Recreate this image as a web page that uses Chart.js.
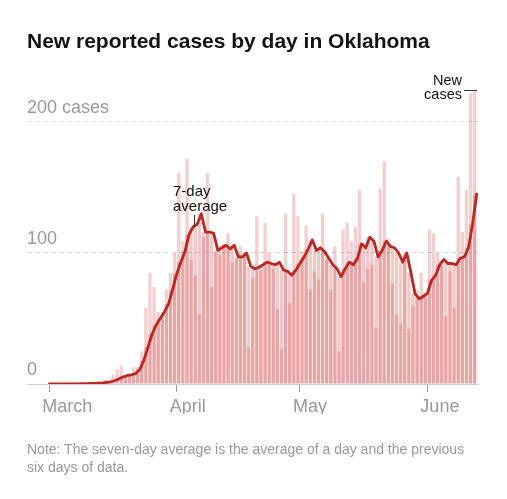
<!DOCTYPE html>
<html>
<head>
<meta charset="utf-8">
<script src="https://cdn.jsdelivr.net/npm/chart.js@4"></script>
<style>
  body { margin: 0; background: #fff; font-family: 'Liberation Sans', Arial, sans-serif; }
  #wrap { position: relative; width: 507px; height: 499px; overflow: hidden; }
  #chart { position: absolute; left: 0; top: 0; }
  .title {
    position: absolute; left: 27px; top: 30px;
    font-size: 21px; line-height: 21px; font-weight: bold;
    color: #121212; white-space: nowrap;
  }
  .note {
    position: absolute; left: 27px; top: 441px; width: 450px;
    font-size: 14px; line-height: 17.6px; color: #999;
  }
</style>
</head>
<body>
<div id="wrap">
  <canvas id="chart" width="507" height="499"></canvas>
  <div class="title">New reported cases by day in Oklahoma</div>
  <div class="note">Note: The seven-day average is the average of a day and the previous six days of data.</div>
</div>

<script>
// one value per day, March 1 (day 0) to June 13 (day 104)
const newCases = [
  0, 0, 0, 0, 0, 0, 1, 0, 1, 0,
  1, 0, 2, 1, 3, 2, 7, 11, 14, 5,
  7, 13, 13, 25, 58, 85, 74, 55, 51, 72,
  85, 100, 161, 109, 172, 95, 83, 53, 112, 161,
  74, 100, 98, 107, 115, 93, 96, 105, 100, 28,
  81, 128, 87, 123, 100, 88, 57, 27, 130, 62,
  145, 128, 101, 121, 72, 86, 80, 130, 95, 72,
  105, 25, 118, 123, 109, 120, 148, 78, 88, 91,
  43, 149, 170, 111, 77, 53, 46, 98, 42, 60,
  72, 85, 70, 118, 115, 100, 90, 52, 86, 58,
  158, 116, 148, 222, 224
];

// 7-day average
const avg7 = [
  0, 0, 0, 0, 0, 0, 0.1, 0.1, 0.3, 0.3,
  0.4, 0.4, 0.7, 0.9, 1.3, 1.7, 2.7, 4, 5.5, 6.5,
  7, 8, 11, 18, 28, 38, 45, 50, 55, 61,
  72, 84, 93, 101, 114, 120, 122, 130, 116, 116,
  115, 102, 104, 106, 103, 106, 97, 97, 100, 90,
  88, 89, 91, 93, 92, 91, 93, 87, 86, 83,
  87, 92, 97, 103, 110, 102, 104, 101, 96, 91,
  88, 82, 88, 93, 91, 96, 107, 104, 112, 109,
  97, 102, 109, 105, 104, 100, 93, 100, 85, 69,
  65, 67, 69, 79, 83, 91, 95, 92, 92, 91,
  96, 97, 104, 122, 145
];

const monthTicks = [0, 31, 61, 92];
const monthLabels = ['March', 'April', 'May', 'June'];
const yTicks = [0, 100, 200];

const days = newCases.map((_, i) => i);
const pts = arr => arr.map((v, i) => ({ x: days[i], y: v }));

const FONT = "'Liberation Sans', Arial, sans-serif";
const barRGB = '200, 40, 40';

// labels for the line and the bars
const annotations = {
  id: 'annotations',
  afterDatasetsDraw(chart) {
    const ctx = chart.ctx;
    ctx.save();
    ctx.fillStyle = '#121212';
    ctx.font = '15px ' + FONT;
    ctx.textAlign = 'left';
    ctx.fillText('7-day', 173, 196);
    ctx.fillText('average', 173, 210.5);
    ctx.font = '14.5px ' + FONT;
    ctx.textAlign = 'right';
    ctx.fillText('New', 462, 84.5);
    ctx.fillText('cases', 462, 98.5);
    ctx.strokeStyle = '#333';
    ctx.lineWidth = 1;
    ctx.beginPath();
    ctx.moveTo(194.5, 215);
    ctx.lineTo(194.5, 227);
    ctx.moveTo(464, 90.5);
    ctx.lineTo(477, 90.5);
    ctx.stroke();
    ctx.restore();
  }
};

new Chart(document.getElementById('chart'), {
  data: {
    datasets: [
      {
        type: 'line',
        label: '7-day average',
        data: pts(avg7),
        xAxisID: 'x',
        borderColor: '#bb2723',
        borderWidth: 2.8,
        pointRadius: 0,
        tension: 0,
        borderJoinStyle: 'round',
        borderCapStyle: 'round',
        order: 0
      },
      {
        type: 'bar',
        label: 'New cases',
        data: pts(newCases),
        xAxisID: 'xb',
        backgroundColor: 'rgba(' + barRGB + ', 0.22)',
        grouped: false,
        barPercentage: 0.82,
        categoryPercentage: 1,
        order: 1
      },
      {
        type: 'bar',
        label: 'Average',
        data: pts(avg7),
        xAxisID: 'xb',
        backgroundColor: 'rgba(' + barRGB + ', 0.25)',
        grouped: false,
        barPercentage: 0.82,
        categoryPercentage: 1,
        order: 2
      }
    ]
  },
  options: {
    responsive: false,
    animation: false,
    devicePixelRatio: 1,
    events: [],
    layout: { padding: { left: 27, right: 29, top: 69.6, bottom: 85 } },
    plugins: { legend: { display: false }, tooltip: { enabled: false } },
    scales: {
      x: {
        type: 'linear',
        position: 'bottom',
        offset: false,
        min: -5.43,
        max: 104.32,
        afterBuildTicks: s => { s.ticks = monthTicks.map(v => ({ value: v })); },
        afterFit: s => { s.height = 30; },
        grid: { drawOnChartArea: false, drawTicks: true, tickLength: 8, tickColor: '#999', color: '#999' },
        border: { display: true, color: '#ccc', width: 1 },
        ticks: {
          align: 'start',
          labelOffset: -7,
          padding: 4,
          color: '#999',
          autoSkip: false,
          maxRotation: 0,
          font: { family: FONT, size: 18 },
          callback: (v, i) => monthLabels[i]
        }
      },
      // bars sit on the day interval that ends at each day tick
      xb: { type: 'linear', display: false, offset: false, min: -4.93, max: 104.82 },
      y: {
        type: 'linear',
        position: 'left',
        min: 0,
        max: 240,
        afterBuildTicks: s => { s.ticks = yTicks.map(v => ({ value: v })); },
        afterFit: s => { s.width = 0; },
        grid: {
          drawTicks: false,
          lineWidth: 1,
          color: c => (c.tick && c.tick.value === 0) ? 'rgba(0,0,0,0)' : '#ddd'
        },
        border: { display: false, dash: [5, 3] },
        ticks: {
          mirror: true,
          padding: 0,
          labelOffset: -14,
          color: '#999',
          font: { family: FONT, size: 18 },
          callback: v => v === 200 ? '200 cases' : String(v)
        }
      }
    }
  },
  plugins: [annotations]
});
</script>
</body>
</html>
